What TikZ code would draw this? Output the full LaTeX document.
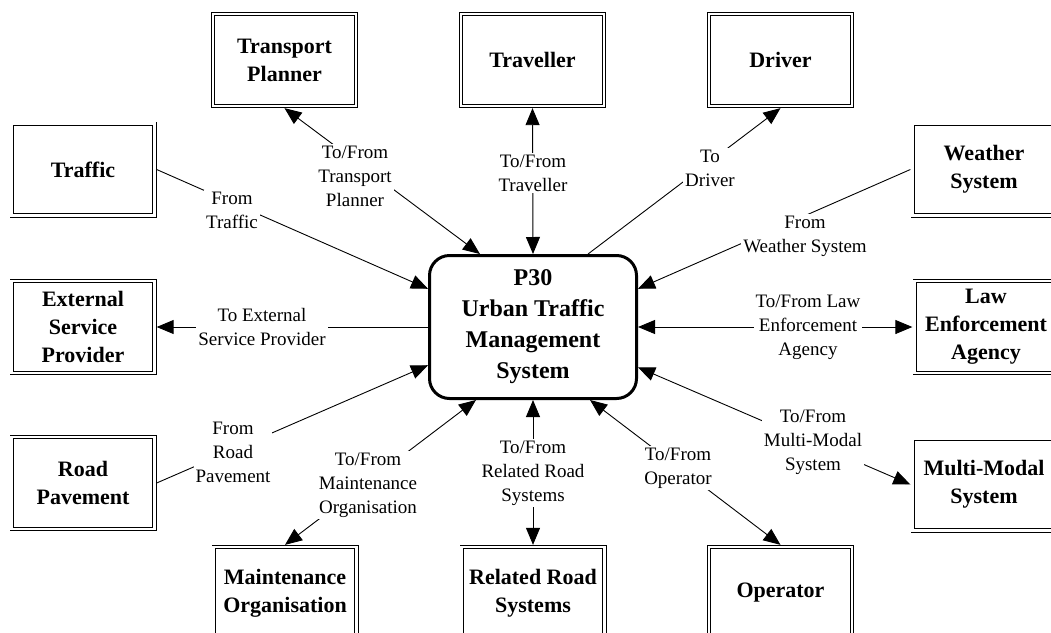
\documentclass[tikz,border=0pt]{standalone}
\usepackage{fontspec}
\setmainfont{Liberation Serif}
\usetikzlibrary{arrows.meta}
\begin{document}
\begin{tikzpicture}[x=1pt,y=-1pt,
  ext/.style={draw, double, double distance=2.3pt, line width=0.9pt,
    minimum width=142.9pt, minimum height=91.9pt, inner sep=2pt, outer sep=2.2pt,
    align=center, font=\fontsize{22}{28}\selectfont\bfseries},
  core/.style={draw, line width=3pt, rounded corners=20pt,
    minimum width=207pt, minimum height=143pt, outer sep=1.5pt,
    align=center, font=\fontsize{24}{31}\selectfont\bfseries},
  lbl/.style={fill=white, inner sep=2pt, align=center, font=\fontsize{19}{24}\selectfont},
  conn/.style={line width=0.9pt},
  arr/.style={conn, -{Triangle[length=17pt,width=14pt]}},
  darr/.style={conn, {Triangle[length=17pt,width=14pt]}-{Triangle[length=17pt,width=14pt]}}]
\useasboundingbox (0,0) rectangle (1051,632);

\node[ext] (tp)  at (284.5,60)  {Transport\\Planner};
\node[ext] (trv) at (532.5,60)  {Traveller};
\node[ext] (drv) at (780.5,60)  {Driver};
\node[ext] (trf) at (83,169.5)  {Traffic};
\node[ext] (wth) at (984,169.5) {Weather\\System};
\node[ext] (esp) at (83,327)    {External\\Service\\Provider};
\node[ext] (law) at (986,327)   {Law\\Enforcement\\Agency};
\node[ext] (rp)  at (83,483)    {Road\\Pavement};
\node[ext] (mm)  at (984,484.5) {Multi-Modal\\System};
\node[ext] (mo)  at (285,593)   {Maintenance\\Organisation};
\node[ext] (rrs) at (533,593)   {Related Road\\Systems};
\node[ext] (op)  at (780.5,593) {Operator};
\node[core] (c)  at (533,327)   {P30\\Urban Traffic\\Management\\System};

\draw[darr] (tp.south) -- (c.126.6);
\draw[darr] (trv.south) -- (c.north);
\draw[arr]  (c.53.4) -- (drv.south);
\draw[arr]  (trf.east) -- (c.160.6);
\draw[arr]  (wth.west) -- (c.20.4);
\draw[arr]  (c.west) -- (esp.east);
\draw[darr] (c.east) -- (law.west);
\draw[arr]  (rp.east) -- (c.200);
\draw[darr] (c.339) -- (mm.west);
\draw[darr] (c.232.5) -- (mo.north);
\draw[darr] (c.south) -- (rrs.north);
\draw[darr] (c.308) -- (op.north);

\node[lbl] (l1)  at (355,176) {To/From\\Transport\\Planner};
\node[lbl] (l2)  at (533,173) {To/From\\Traveller};
\node[lbl] (l3)  at (710,168) {To\\Driver};
\node[lbl] (l4)  at (232,210) {From\\Traffic};
\node[lbl] (l5)  at (805,236) {From\\Weather System};
\node[lbl] (l6)  at (262,327) {To External\\Service Provider};
\node[lbl] (l7)  at (808,327) {To/From Law\\Enforcement\\Agency};
\node[lbl] (l8)  at (233,452) {From\\Road\\Pavement};
\node[lbl] (l9)  at (813,442) {To/From\\Multi-Modal\\System};
\node[lbl] (l10) at (368,485) {To/From\\Maintenance\\Organisation};
\node[lbl] (l11) at (533,473) {To/From\\Related Road\\Systems};
\node[lbl] (l12) at (678,468) {To/From\\Operator};
\end{tikzpicture}
\end{document}
